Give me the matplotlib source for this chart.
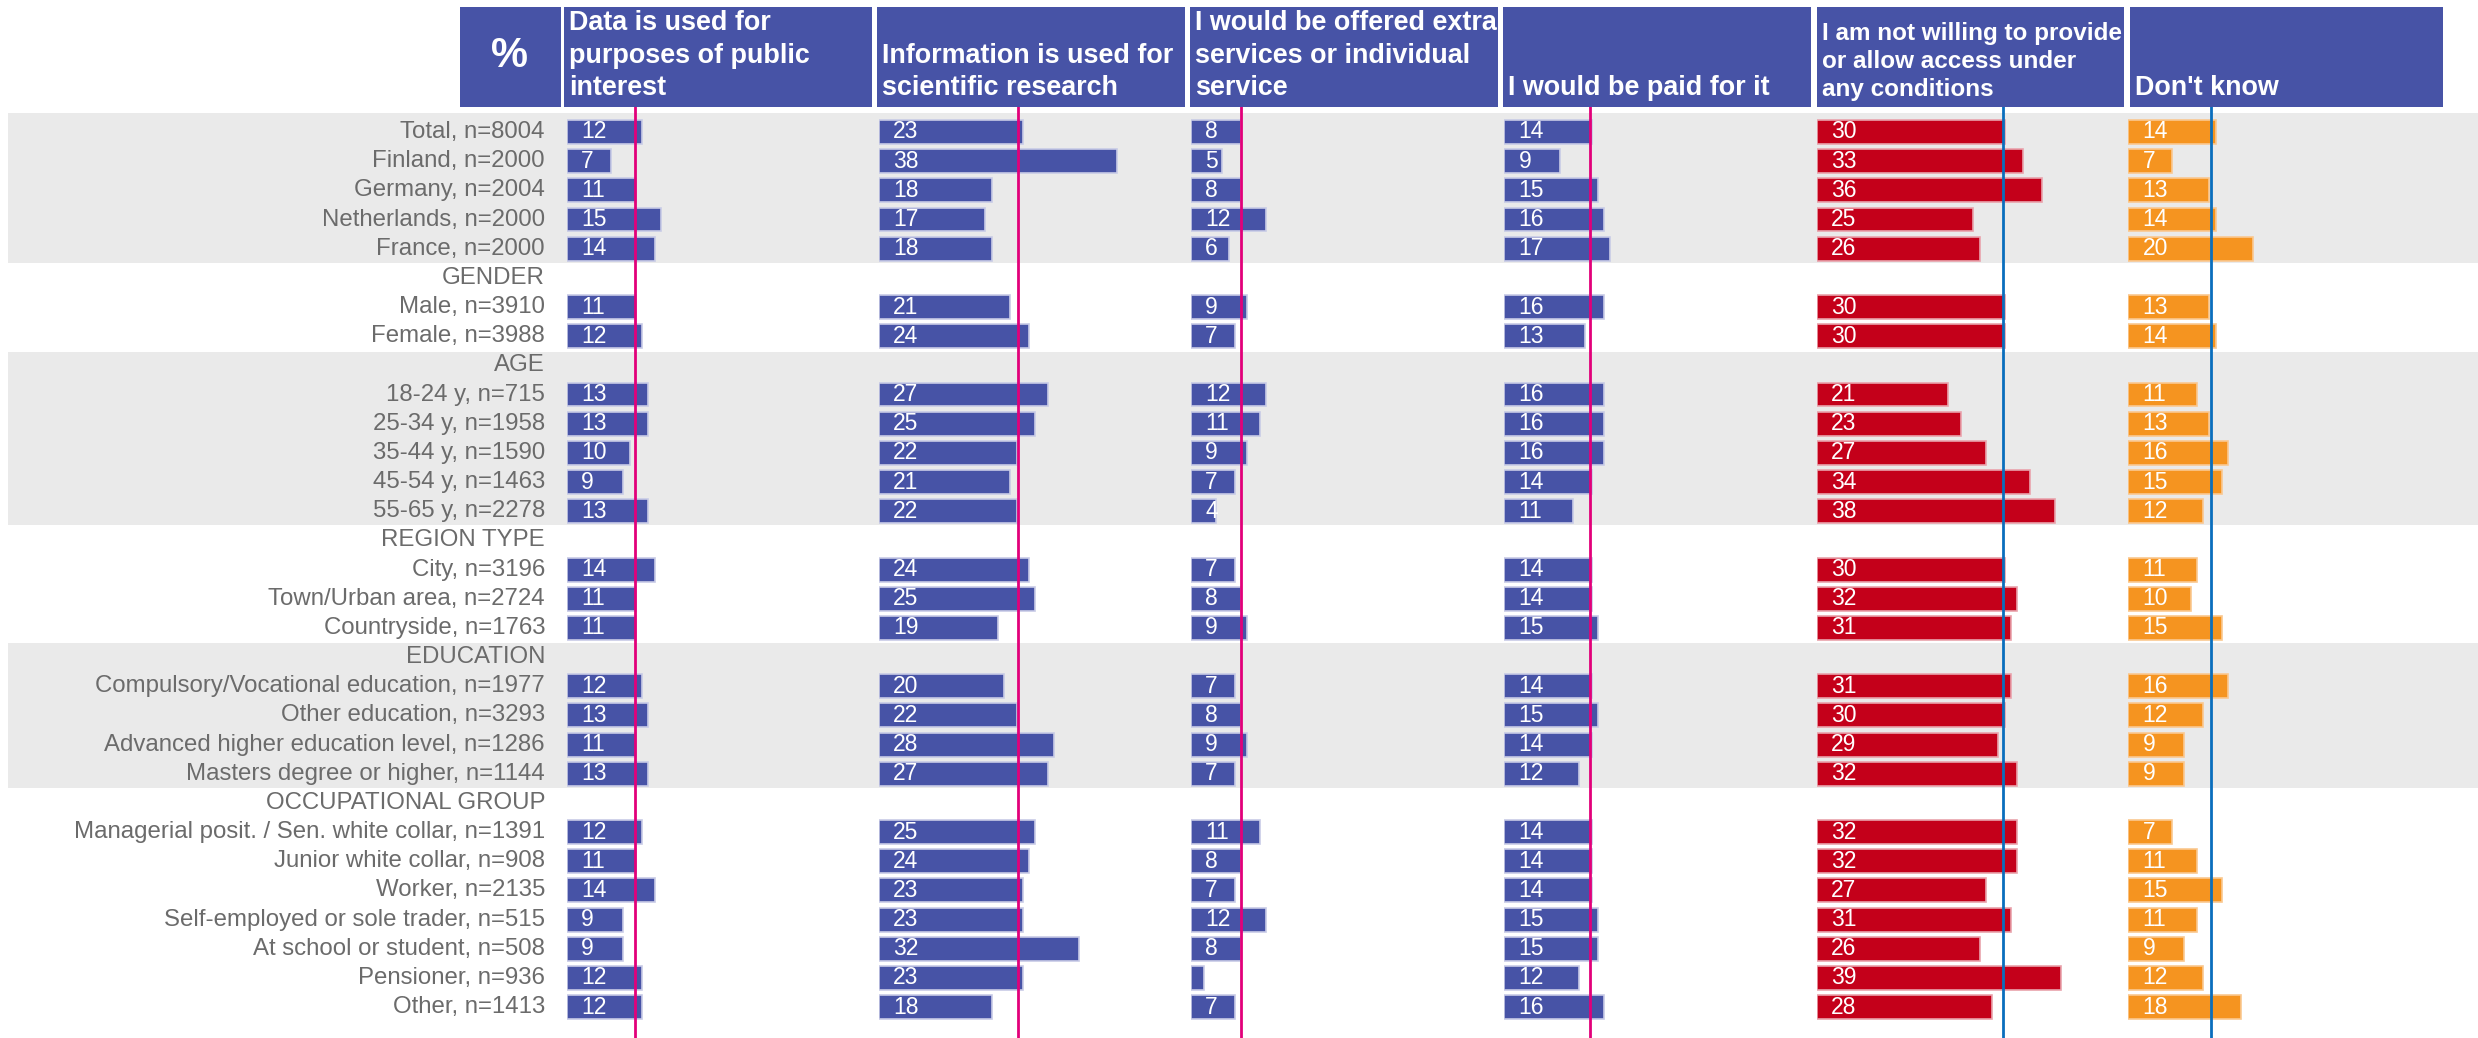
import matplotlib
matplotlib.use('Agg')
import matplotlib.pyplot as plt
from matplotlib.patches import Rectangle

plt.rcParams['font.family'] = ['Liberation Sans', 'DejaVu Sans']

# figure size in pixels
W, H = 2478, 1038
DPI = 100

# ---- data ----
row_labels = ['Total, n=8004', 'Finland, n=2000', 'Germany, n=2004', 'Netherlands, n=2000',
              'France, n=2000',
              'GENDER', 'Male, n=3910', 'Female, n=3988',
              'AGE', '18-24 y, n=715', '25-34 y, n=1958', '35-44 y, n=1590',
              '45-54 y, n=1463', '55-65 y, n=2278',
              'REGION TYPE', 'City, n=3196', 'Town/Urban area, n=2724', 'Countryside, n=1763',
              'EDUCATION', 'Compulsory/Vocational education, n=1977', 'Other education, n=3293',
              'Advanced higher education level, n=1286', 'Masters degree or higher, n=1144',
              'OCCUPATIONAL GROUP', 'Managerial posit. / Sen. white collar, n=1391',
              'Junior white collar, n=908', 'Worker, n=2135',
              'Self-employed or sole trader, n=515', 'At school or student, n=508',
              'Pensioner, n=936', 'Other, n=1413']

col_titles = ['Data is used for\npurposes of public\ninterest',
              'Information is used for\nscientific research',
              'I would be offered extra\nservices or individual\nservice',
              'I would be paid for it',
              'I am not willing to provide\nor allow access under\nany conditions',
              "Don't know"]

N = None
public_interest = [12, 7, 11, 15, 14, N, 11, 12, N, 13, 13, 10, 9, 13, N, 14, 11, 11,
                   N, 12, 13, 11, 13, N, 12, 11, 14, 9, 9, 12, 12]
research = [23, 38, 18, 17, 18, N, 21, 24, N, 27, 25, 22, 21, 22, N, 24, 25, 19,
            N, 20, 22, 28, 27, N, 25, 24, 23, 23, 32, 23, 18]
extra_services = [8, 5, 8, 12, 6, N, 9, 7, N, 12, 11, 9, 7, 4, N, 7, 8, 9,
                  N, 7, 8, 9, 7, N, 11, 8, 7, 12, 8, 2, 7]
paid = [14, 9, 15, 16, 17, N, 16, 13, N, 16, 16, 16, 14, 11, N, 14, 14, 15,
        N, 14, 15, 14, 12, N, 14, 14, 14, 15, 15, 12, 16]
not_willing = [30, 33, 36, 25, 26, N, 30, 30, N, 21, 23, 27, 34, 38, N, 30, 32, 31,
               N, 31, 30, 29, 32, N, 32, 32, 27, 31, 26, 39, 28]
dont_know = [14, 7, 13, 14, 20, N, 13, 14, N, 11, 13, 16, 15, 12, N, 11, 10, 15,
             N, 16, 12, 9, 9, N, 7, 11, 15, 11, 9, 12, 18]

series = [public_interest, research, extra_services, paid, not_willing, dont_know]

# average reference lines
ref_lines = [10.8, 22.3, 8.0, 13.8, 29.7, 13.3]

# shaded row groups (first row, last row)
bands = [(0, 4), (8, 13), (18, 22)]

# ---- styling ----
BLUE = '#4753A6'
RED = '#C4001A'
ORANGE = '#F59420'
MAGENTA = '#E2007A'
LINEBLUE = '#0A6EBD'
GRAY_BAND = '#EAEAEA'
LABEL_GRAY = '#6B6B6B'

bar_colors = [BLUE, BLUE, BLUE, BLUE, RED, ORANGE]
ref_colors = [MAGENTA, MAGENTA, MAGENTA, MAGENTA, LINEBLUE, LINEBLUE]
edge_colors = ['#C8CBE6', '#C8CBE6', '#C8CBE6', '#C8CBE6', '#E9A3AC', '#FAC890']

# layout in pixels
box_x = [564, 877, 1190, 1503, 1817, 2130]
box_w = [308, 308, 308, 308, 307, 313]
bar_x = [567, 879, 1191, 1504, 1817, 2128]
px_per_unit = 6.25
hdr_top, hdr_bot = 7, 107
row0_px, row_step = 132, 29.17

y_top = (hdr_bot - row0_px) / row_step
y_bot = (H - row0_px) / row_step

fig = plt.figure(figsize=(W / DPI, H / DPI), dpi=DPI)

# background axes: bands and row labels (x in pixels, y in rows)
bg = fig.add_axes([0, 0, 1, (H - hdr_bot) / H])
bg.set_xlim(0, W)
bg.set_ylim(y_bot, y_top)
bg.axis('off')
for k, (r0, r1) in enumerate(bands):
    top = -0.65 if k == 0 else r0 - 0.47
    bg.add_patch(Rectangle((8, top), W - 8, r1 + 0.48 - top,
                           facecolor=GRAY_BAND, edgecolor='none', zorder=0))
for i, lab in enumerate(row_labels):
    bg.text(545, i, lab, ha='right', va='center', fontsize=17.3, color=LABEL_GRAY)

# one axes per answer column
nrows = len(row_labels)
for c, vals in enumerate(series):
    span = 300
    ax = fig.add_axes([bar_x[c] / W, 0, span / W, (H - hdr_bot) / H])
    ax.set_xlim(0, span / px_per_unit)
    ax.set_ylim(y_bot, y_top)
    ax.axis('off')
    ax.patch.set_alpha(0)
    ys = [i for i in range(nrows) if vals[i] is not None]
    vs = [vals[i] for i in ys]
    ax.barh(ys, vs, height=0.82, left=0, color=bar_colors[c],
            edgecolor=edge_colors[c], linewidth=1.2, zorder=2)
    for y, v in zip(ys, vs):
        if v >= 3:
            ax.text(2.3, y, str(v), color='white', ha='left', va='center',
                    fontsize=16.5, zorder=3)
    ax.plot([ref_lines[c], ref_lines[c]], [y_bot, y_top - 0.15], color=ref_colors[c],
            lw=2, zorder=4, clip_on=False)

# header overlay (pixel coordinates)
hd = fig.add_axes([0, 0, 1, 1])
hd.set_xlim(0, W)
hd.set_ylim(H, 0)
hd.axis('off')
hd.patch.set_alpha(0)
hd.add_patch(Rectangle((460, hdr_top), 101, hdr_bot - hdr_top, facecolor=BLUE, edgecolor='none'))
hd.text(510, 56, '%', color='white', fontsize=30, fontweight='bold', ha='center', va='center')
for c, title in enumerate(col_titles):
    hd.add_patch(Rectangle((box_x[c], hdr_top), box_w[c], hdr_bot - hdr_top,
                           facecolor=BLUE, edgecolor='none'))
    fs = 17.5 if c == 4 else 19.4
    ls = 1.28 if c == 4 else 1.32
    hd.text(box_x[c] + 5, 101, title, color='white', fontsize=fs, fontweight='bold',
            ha='left', va='bottom', linespacing=ls)

fig.savefig('out.png', dpi=DPI)
